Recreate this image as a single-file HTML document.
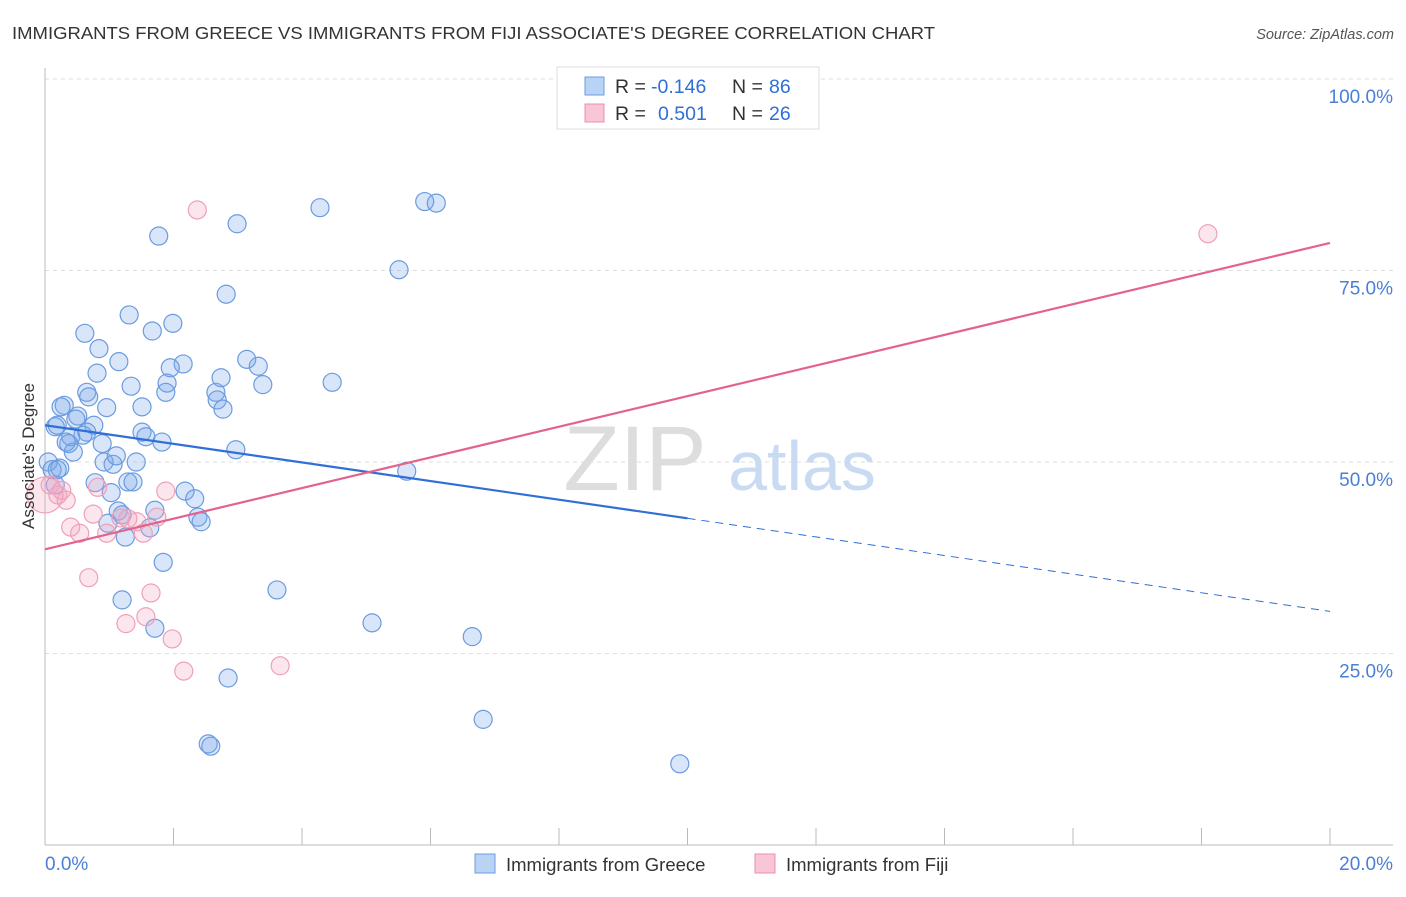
<!DOCTYPE html>
<html><head><meta charset="utf-8"><style>
body{margin:0;background:#fff;font-family:"Liberation Sans",sans-serif}
svg text{font-family:"Liberation Sans",sans-serif}
</style></head><body>
<svg id="chart" width="1406" height="892">
<text x="12" y="39" font-size="17.5" fill="#333" textLength="923" lengthAdjust="spacingAndGlyphs">IMMIGRANTS FROM GREECE VS IMMIGRANTS FROM FIJI ASSOCIATE'S DEGREE CORRELATION CHART</text>
<text x="1394" y="39" font-size="14.5" fill="#555" font-style="italic" text-anchor="end">Source: ZipAtlas.com</text>
<g id="grid"></g>
<text x="635" y="490" font-size="92" fill="#ddd" text-anchor="middle" font-family="Liberation Serif,serif">ZIP</text>
<text x="802" y="490" font-size="70" fill="#c9dbf3" text-anchor="middle">atlas</text>
<g id="marks"></g>
<text transform="translate(34,456) rotate(-90)" font-size="17" fill="#333" text-anchor="middle">Associate's Degree</text>
<g>
<rect x="557" y="67" width="262" height="62" fill="#fff" stroke="#ddd"/>
<rect x="585" y="77" width="19" height="18" fill="#b9d3f5" stroke="#6b9be0"/>
<rect x="585" y="104" width="19" height="18" fill="#f8c6d6" stroke="#e890ac"/>
<text x="615" y="93" font-size="19.5" fill="#333">R =</text>
<text x="651" y="93" font-size="19.5" fill="#2f6fd6">-0.146</text>
<text x="732" y="93" font-size="19.5" fill="#333">N =</text>
<text x="769" y="93" font-size="19.5" fill="#2f6fd6">86</text>
<text x="615" y="120" font-size="19.5" fill="#333">R =</text>
<text x="658" y="120" font-size="19.5" fill="#2f6fd6">0.501</text>
<text x="732" y="120" font-size="19.5" fill="#333">N =</text>
<text x="769" y="120" font-size="19.5" fill="#2f6fd6">26</text>
</g>
<g>
<rect x="475" y="854" width="20" height="19" fill="#b9d3f5" stroke="#6b9be0"/>
<text x="506" y="871" font-size="18.5" fill="#333">Immigrants from Greece</text>
<rect x="755" y="854" width="20" height="19" fill="#f8c6d6" stroke="#e890ac"/>
<text x="786" y="871" font-size="18.5" fill="#333">Immigrants from Fiji</text>
</g>
</svg>
<script>
const yTicks=[25,50,75,100];
const yTickLabels=["25.0%","50.0%","75.0%","100.0%"];
const xTicks=[0,2,4,6,8,10,12,14,16,18,20];
const greeceX=[1.77,2.99,4.28,5.91,6.09,5.51,2.82,1.31,1.67,1.99,0.62,0.84,1.15,2.15,1.95,3.14,3.32,0.81,1.34,1.90,1.88,2.66,2.74,3.39,4.47,0.65,0.68,2.68,2.77,0.30,0.25,0.96,1.51,0.51,0.48,0.76,0.16,0.65,0.59,0.40,1.51,1.57,0.37,0.33,1.82,2.97,0.89,0.44,0.05,0.92,1.06,1.42,1.11,0.23,5.63,0.78,1.29,1.37,1.03,2.18,2.33,1.71,2.38,2.43,1.14,1.20,0.98,1.63,1.25,1.84,3.61,1.20,1.71,5.09,6.65,2.85,6.82,2.54,2.58,9.88,0.16,0.11,0.19,0.19];
const greeceY=[79.5,81.1,83.2,84.0,83.8,75.1,71.9,69.2,67.1,68.1,66.8,64.8,63.1,62.8,62.3,63.4,62.5,61.6,59.9,60.3,59.1,59.1,61.0,60.1,60.4,59.1,58.5,58.1,56.9,57.4,57.2,57.1,57.2,56.0,55.6,54.8,54.6,53.9,53.5,53.3,53.9,53.3,52.4,52.6,52.6,51.6,52.4,51.3,50.0,50.0,49.7,50.0,50.8,49.2,48.8,47.3,47.4,47.4,46.0,46.2,45.2,43.7,42.8,42.2,43.6,43.1,42.0,41.4,40.2,36.9,33.3,32.0,28.3,29.0,27.2,21.8,16.4,13.2,12.9,10.6,47.0,49.0,49.0,54.8];
const fijiX=[2.37,18.10,0.08,0.20,0.26,0.33,0.82,0.75,0.40,0.54,0.96,1.18,1.29,1.43,1.53,1.88,1.74,0.68,1.65,1.26,1.57,1.98,2.16,3.66,0.0];
const fijiY=[82.9,79.8,47.0,45.7,46.3,45.0,46.7,43.2,41.5,40.7,40.7,42.7,42.6,42.2,40.7,46.2,42.8,34.9,32.9,28.9,29.8,26.9,22.7,23.4,45.7];
const greeceTrend=[54.8,30.5];
const fijiTrend=[38.6,78.6];
const X0=45,X1=1330,Y0=845,Y1=79;
const sx=v=>X0+(v/20)*(X1-X0);
const sy=v=>Y0-(v/100)*(Y0-Y1);
const NS="http://www.w3.org/2000/svg";
function mk(tag,attrs,parent){const e=document.createElementNS(NS,tag);for(const k in attrs)e.setAttribute(k,attrs[k]);parent.appendChild(e);return e;}
const grid=document.getElementById('grid'),marks=document.getElementById('marks');
yTicks.forEach((t,i)=>{
 const l=mk('line',{x1:X0,x2:1393,y1:sy(t),y2:sy(t),stroke:'#ddd','stroke-dasharray':'4,4'},grid);
 
 
 const tx=mk('text',{x:1393,y:sy(t)+24,'font-size':19,fill:'#4a7fd6','text-anchor':'end'},grid);
 tx.textContent=yTickLabels[i];
 
 
});
const ax=mk('line',{x1:X0,x2:X0,y1:68,y2:Y0,stroke:'#bbb'},grid);


const bx=mk('line',{x1:X0,x2:1393,y1:Y0,y2:Y0,stroke:'#bbb'},grid);


xTicks.forEach(t=>{
 const l=mk('line',{x1:sx(t),x2:sx(t),y1:Y0,y2:828,stroke:'#bbb'},grid);
 
 
});
[[0,'0.0%',45,'start'],[20,'20.0%',1393,'end']].forEach(a=>{
 const tx=mk('text',{x:a[2],y:870,'font-size':19,fill:'#4a7fd6','text-anchor':a[3]},grid);
 tx.textContent=a[1];
 
 
});
greeceX.forEach((x,i)=>{
 const c=mk('circle',{cx:sx(x),cy:sy(greeceY[i]),r:9,fill:'rgba(120,165,235,0.28)',stroke:'#6b9be0','stroke-width':1.2},marks);
 
 
});
fijiX.forEach((x,i)=>{
 const big=i===fijiX.length-1;
 const c=mk('circle',{cx:sx(x),cy:sy(fijiY[i]),r:big?18:9,fill:'rgba(245,165,195,0.28)',stroke:'#eea0b8','stroke-width':1.2},marks);
 
 
});
const gy=x=>greeceTrend[0]+(greeceTrend[1]-greeceTrend[0])*x/20;
const l1=mk('line',{x1:sx(0),y1:sy(gy(0)),x2:sx(10),y2:sy(gy(10)),stroke:'#2f6fd6','stroke-width':2.2},marks);


const l2=mk('line',{x1:sx(10),y1:sy(gy(10)),x2:sx(20),y2:sy(gy(20)),stroke:'#2f6fd6','stroke-width':1,'stroke-dasharray':'8,6'},marks);


const l3=mk('line',{x1:sx(0),y1:sy(fijiTrend[0]),x2:sx(20),y2:sy(fijiTrend[1]),stroke:'#e4638d','stroke-width':2.2},marks);


</script>
</body></html>
